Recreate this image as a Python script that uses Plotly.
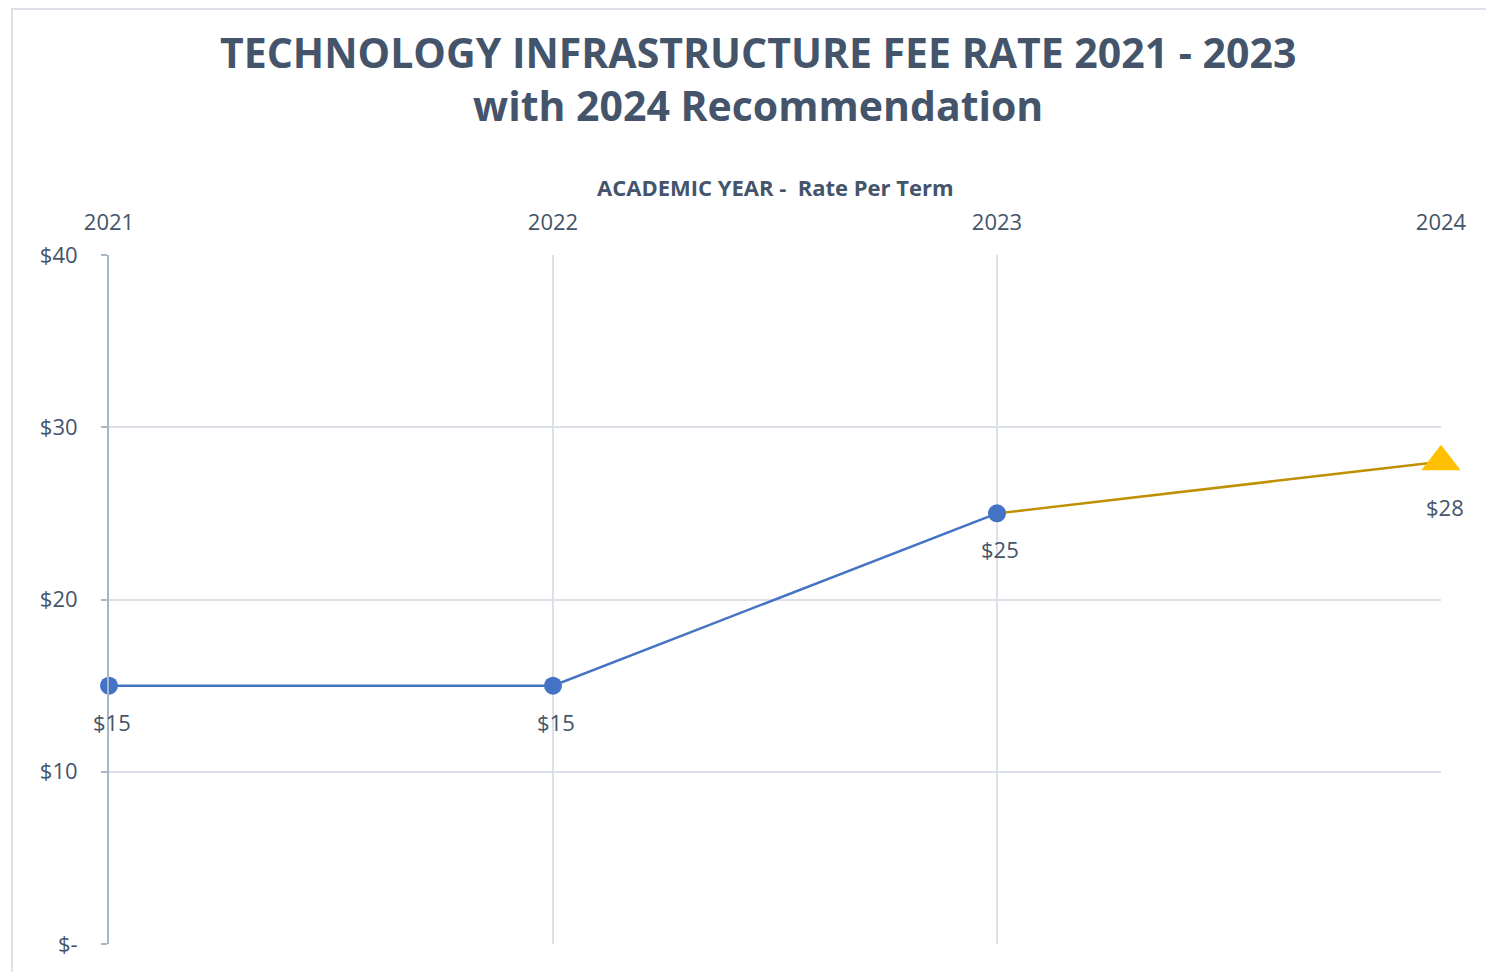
import plotly.graph_objects as go

# Data
years_actual = [2021, 2022, 2023]
rates_actual = [15, 15, 25]
years_rec = [2023, 2024]
rates_rec = [25, 28]
x_ticks = [2021, 2022, 2023, 2024]
y_tickvals = [0, 10, 20, 30, 40]
y_ticktext = ["$-", "$10", "$20", "$30", "$40"]

TEXT = "#44546A"
GRID = "#DCE0E8"
FONT = "Open Sans"

OFF = 8  # page body margin
W, H = 1494 - OFF, 972 - OFF
L, T = 109 - OFF, 255 - OFF
R, B = W - (1441 - OFF), H - (944 - OFF)
pw, ph = W - L - R, H - T - B


def px_x(x):
    return (x - OFF - L) / pw


def px_y(y):
    return (H - B - (y - OFF)) / ph


fig = go.Figure()

fig.add_trace(go.Scatter(
    x=years_rec, y=rates_rec, mode="lines",
    line=dict(color="#BF9000", width=2.5), hoverinfo="skip", showlegend=False,
    cliponaxis=False,
))
fig.add_trace(go.Scatter(
    x=years_actual, y=rates_actual, mode="lines+markers",
    line=dict(color="#4472C4", width=2.5),
    marker=dict(color="#4472C4", size=18, symbol="circle"),
    showlegend=False, cliponaxis=False,
))
fig.add_trace(go.Scatter(
    x=years_rec[-1:], y=rates_rec[-1:], mode="markers",
    marker=dict(color="#FFC000", size=34, symbol="triangle-up"),
    showlegend=False, cliponaxis=False,
))

annotations = []
for xv, yv in zip(years_actual, rates_actual):
    annotations.append(dict(x=xv, y=yv, xref="x", yref="y", text=f"${yv}",
                            showarrow=False, yshift=-36, xshift=3,
                            font=dict(family=FONT, size=22, color=TEXT)))
annotations.append(dict(x=years_rec[-1], y=rates_rec[-1], xref="x", yref="y",
                        text=f"${rates_rec[-1]}", showarrow=False, yshift=-45, xshift=4,
                        font=dict(family=FONT, size=22, color=TEXT)))

# Title
annotations.append(dict(
    x=px_x(758), y=px_y(78), xref="paper", yref="paper",
    text="<b>TECHNOLOGY INFRASTRUCTURE FEE RATE 2021 - 2023<br>with 2024 Recommendation</b>",
    showarrow=False, xanchor="center", yanchor="middle", align="center",
    font=dict(family=FONT, size=41, color=TEXT),
))
# Axis title
annotations.append(dict(
    x=px_x(775), y=px_y(187), xref="paper", yref="paper",
    text="<b>ACADEMIC YEAR -  Rate Per Term</b>",
    showarrow=False, xanchor="center", yanchor="middle",
    font=dict(family=FONT, size=22, color=TEXT),
))

shapes = [
    dict(type="rect", xref="paper", yref="paper",
         x0=px_x(12), x1=px_x(1520),
         y0=px_y(1000), y1=px_y(9),
         line=dict(color="#DDE2EA", width=2), fillcolor="rgba(0,0,0,0)", layer="below"),
]

fig.update_layout(
    width=W, height=H,
    margin=dict(l=L, r=R, t=T, b=B),
    paper_bgcolor="white", plot_bgcolor="white",
    annotations=annotations, shapes=shapes,
    xaxis=dict(
        range=[2021, 2024], side="top", tickvals=x_ticks,
        ticktext=[str(v) for v in x_ticks],
        showgrid=True, gridcolor=GRID, gridwidth=2,
        zeroline=False, showline=False, ticks="",
        tickfont=dict(family=FONT, size=22, color=TEXT),
        ticklabelstandoff=20,
    ),
    yaxis=dict(
        range=[0, 40], tickvals=y_tickvals, ticktext=y_ticktext,
        showgrid=True, gridcolor=GRID, gridwidth=2,
        zeroline=False, showline=True, linecolor="#A9B6C9", linewidth=2,
        ticks="outside", ticklen=6, tickcolor="#A9B6C9", tickwidth=2,
        tickfont=dict(family=FONT, size=22, color=TEXT),
        ticklabelstandoff=19,
    ),
)

fig.write_html("out.html")
